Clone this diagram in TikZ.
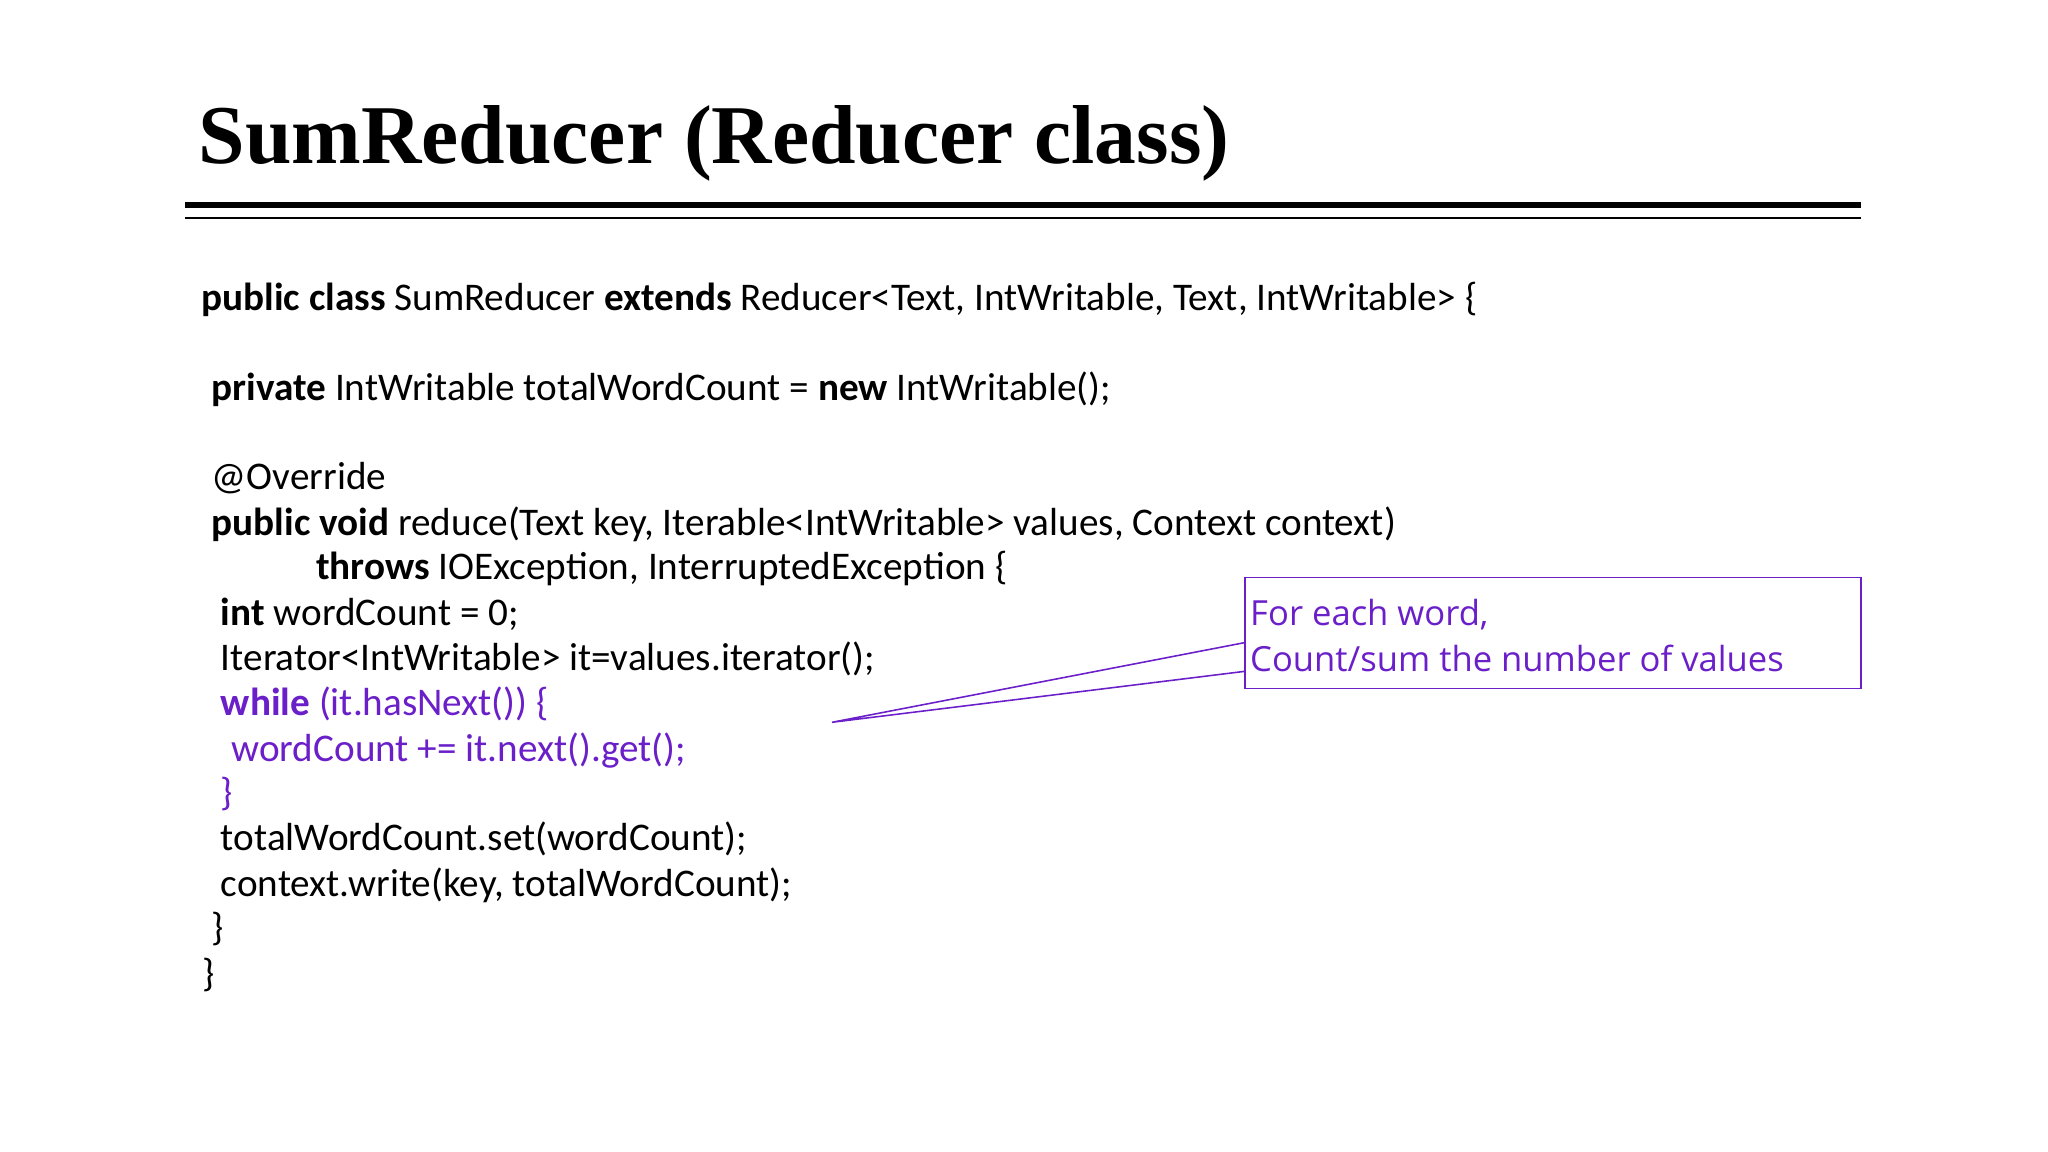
\documentclass[tikz,border=0pt]{standalone}
\usepackage{fontspec}
\setmainfont{Carlito}
\newfontfamily\titlefont{Liberation Serif}
\newfontfamily\notefont{Open Sans}
\definecolor{vio}{HTML}{6A1FC9}
\begin{document}
\begin{tikzpicture}[x=1pt,y=-1pt,
  code/.style={anchor=base west,inner sep=0pt,font=\fontsize{30}{34}\selectfont},
  note/.style={anchor=base west,inner sep=0pt,font=\notefont\fontsize{26.5}{30}\selectfont,text=vio}]
\useasboundingbox (0,0) rectangle (1568,882);
\node[anchor=base west,inner sep=0pt,font=\titlefont\bfseries\fontsize{64}{70}\selectfont] (title) at (152,125) {SumReducer (Reducer class)};
\draw[line width=5] (142,157) -- (1425,157);
\draw[line width=1.5] (142,167) -- (1425,167);
\node[code] (l1) at (154,238) {\textbf{public class} SumReducer \textbf{extends} Reducer<Text, IntWritable, Text, IntWritable> \{};
\node[code] (l2) at (162,307) {\textbf{private} IntWritable totalWordCount = \textbf{new} IntWritable();};
\node[code] (l3) at (162,375) {@Override};
\node[code] (l4) at (162,410) {\textbf{public void} reduce(Text key, Iterable<IntWritable> values, Context context)};
\node[code] (l5) at (242,444) {\textbf{throws} IOException, InterruptedException \{};
\node[code] (l6) at (169,479) {\textbf{int} wordCount = 0;};
\node[code] (l7) at (169,513) {Iterator<IntWritable> it=values.iterator();};
\node[code,text=vio] (l8) at (169,548) {\textbf{while} (it.hasNext()) \{};
\node[code,text=vio] (l9) at (177,583) {wordCount += it.next().get();};
\node[code,text=vio] (l10) at (169,617) {\}};
\node[code] (l11) at (169,651) {totalWordCount.set(wordCount);};
\node[code] (l12) at (169,686) {context.write(key, totalWordCount);};
\node[code] (l13) at (162,720) {\}};
\node[code] (l14) at (155,755) {\}};
\draw[vio,line width=1.2] (953,442) rectangle (1425,527);
\node[note] (n1) at (957,479) {For each word,};
\node[note] (n2) at (957,514) {Count/sum the number of values};
\coordinate (tip) at (637,553);
\coordinate (c1) at (953,492);
\coordinate (c2) at (953,514);
\draw[vio,line width=1.2] (c1) -- (tip) -- (c2);
\end{tikzpicture}
\end{document}
